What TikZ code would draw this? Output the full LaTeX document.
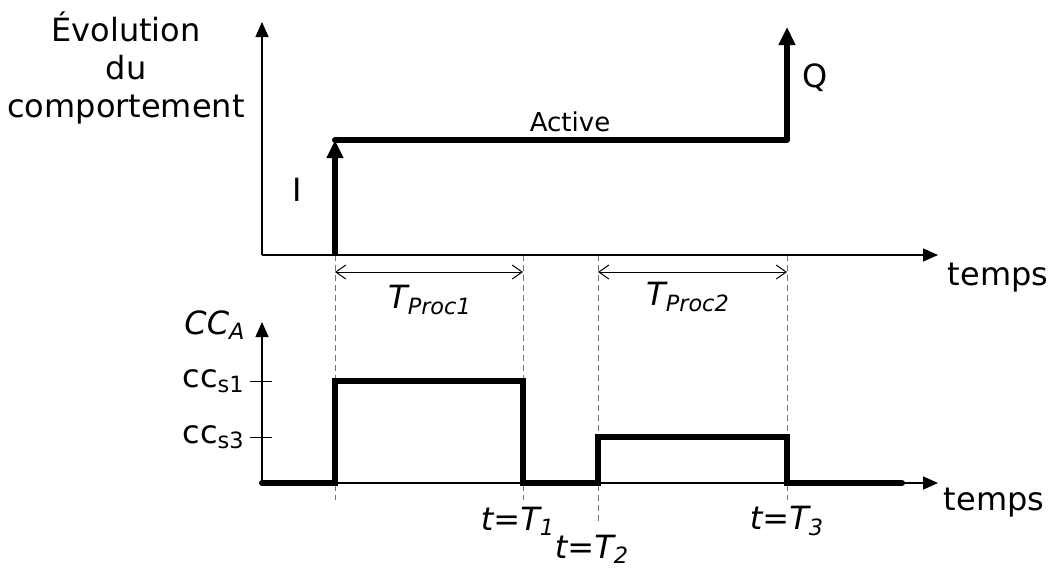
\documentclass[tikz,border=0pt]{standalone}
\usepackage{fontspec}
\setmainfont{DejaVu Sans}
\usetikzlibrary{arrows.meta,positioning}

\begin{document}
\begin{tikzpicture}[x=0.5pt,y=-0.5pt,
  every node/.style={font=\fontsize{16}{19}\selectfont, inner sep=1pt},
  axis/.style={line width=0.75pt, -{Triangle[length=7.5pt,width=6.5pt]}},
  signal/.style={line width=3pt, line cap=round, line join=miter},
  sigarrow/.style={line width=3pt, -{Triangle[length=9pt,width=8pt]}},
  guide/.style={gray!90!black, line width=0.5pt, dash pattern=on 3pt off 2pt},
  span/.style={line width=0.5pt, {Straight Barb[length=5pt,width=7pt]}-{Straight Barb[length=5pt,width=7pt]}},
  tick/.style={line width=0.5pt}
]
  \useasboundingbox (0,0) rectangle (1059,570);

  % top chart
  \coordinate (o1) at (262,255);
  \coordinate (y1) at (262,22);
  \coordinate (x1) at (938,255);
  \coordinate (start) at (335,255);
  \coordinate (act) at (335,140);
  \coordinate (quit) at (787,140);
  \coordinate (qtop) at (787,27);

  % bottom chart
  \coordinate (o2) at (262,483);
  \coordinate (y2) at (262,322);
  \coordinate (x2) at (938,483);

  % guides
  \coordinate (g1a) at (335,255); \coordinate (g1b) at (335,500);
  \coordinate (g2a) at (523,255); \coordinate (g2b) at (523,500);
  \coordinate (g3a) at (598,255); \coordinate (g3b) at (598,522);
  \coordinate (g4a) at (787,255); \coordinate (g4b) at (787,500);
  \draw[guide] (g1a) -- (g1b);
  \draw[guide] (g2a) -- (g2b);
  \draw[guide] (g3a) -- (g3b);
  \draw[guide] (g4a) -- (g4b);

  \coordinate (p1a) at (335,272); \coordinate (p1b) at (523,272);
  \coordinate (p2a) at (598,272); \coordinate (p2b) at (787,272);
  \draw[span] (p1a) -- (p1b);
  \draw[span] (p2a) -- (p2b);

  \draw[axis] (o1) -- (y1);
  \draw[axis] (o1) -- (x1);
  \draw[axis] (o2) -- (y2);
  \draw[axis] (o2) -- (x2);

  \coordinate (t1l) at (250,381); \coordinate (t1r) at (272,381);
  \coordinate (t3l) at (250,437); \coordinate (t3r) at (272,437);
  \draw[tick] (t1l) -- (t1r);
  \draw[tick] (t3l) -- (t3r);

  \draw[sigarrow] (start) -- (act);
  \draw[signal] (act) -- (quit);
  \draw[sigarrow] (quit) -- (qtop);

  \coordinate (s0) at (262,483);
  \coordinate (s1) at (335,483);
  \coordinate (s2) at (335,381);
  \coordinate (s3) at (523,381);
  \coordinate (s4) at (523,483);
  \coordinate (s5) at (598,483);
  \coordinate (s6) at (598,437);
  \coordinate (s7) at (787,437);
  \coordinate (s8) at (787,483);
  \coordinate (s9) at (902,483);
  \draw[signal] (s0) -- (s1) -- (s2) -- (s3) -- (s4) -- (s5) -- (s6) -- (s7) -- (s8) -- (s9);

  % labels
  \node[align=center] (title) at (126,68) {Évolution\\du\\comportement};
  \node (lblI) at (297,190) {I};
  \node (lblQ) at (815,78) {Q};
  \node[font=\fontsize{13}{15}\selectfont] (lblact) at (570,122) {Active};
  \node (temps1) at (998,278) {temps};
  \node (temps2) at (994,503) {temps};
  \node (proc1) at (430,300) {\textit{T\textsubscript{Proc1}}};
  \node (proc2) at (688,297) {\textit{T\textsubscript{Proc2}}};
  \node (cca) at (215,325) {\textit{CC\textsubscript{A}}};
  \node[anchor=east] (ccs1) at (247,381) {cc\textsubscript{s1}};
  \node[anchor=east] (ccs3) at (247,437) {cc\textsubscript{s3}};
  \node (tT1) at (518,521) {\textit{t=T\textsubscript{1}}};
  \node (tT2) at (592,549) {\textit{t=T\textsubscript{2}}};
  \node (tT3) at (787,521) {\textit{t=T\textsubscript{3}}};
\end{tikzpicture}
\end{document}
